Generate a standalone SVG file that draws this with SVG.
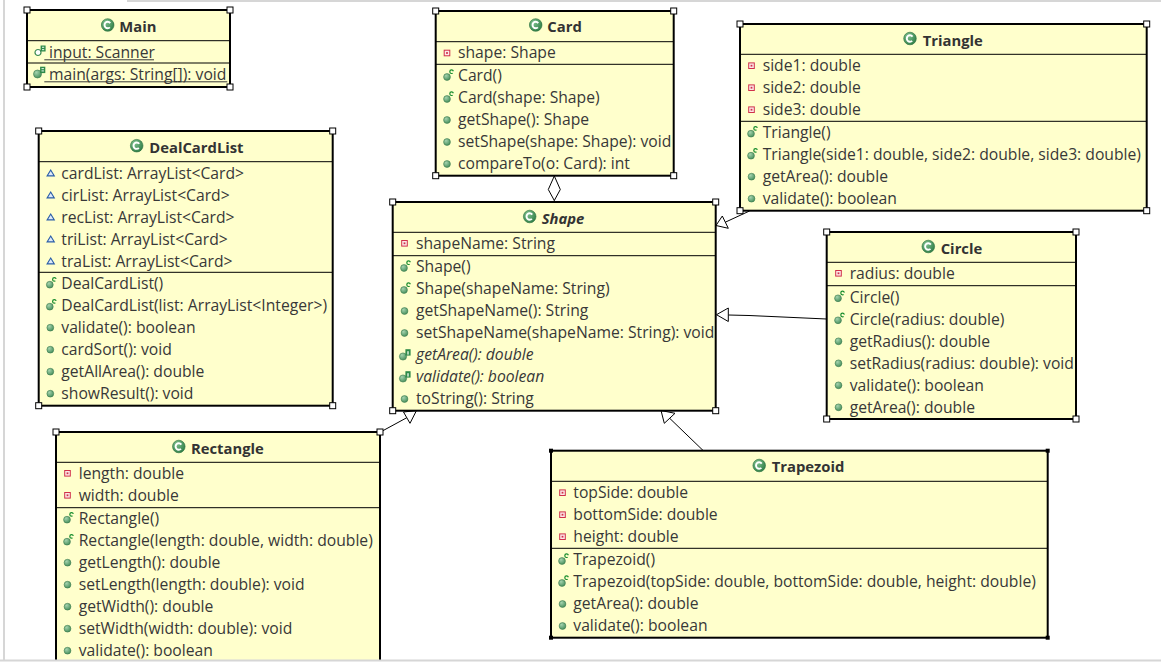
<svg xmlns="http://www.w3.org/2000/svg" xmlns:xlink="http://www.w3.org/1999/xlink" width="1161" height="662" viewBox="0 0 1161 662">
<style>
.box{fill:#ffffcc;stroke:#000;stroke-width:2}
.sep{stroke:#000;stroke-width:1}
.t{font-family:"Open Sans","Noto Sans","Liberation Sans",sans-serif;font-size:15.7px;fill:#383838}
.ti{font-family:"Open Sans","Noto Sans","Liberation Sans",sans-serif;font-size:14.8px;font-weight:bold;fill:#333}
.it{font-style:italic}
.h{fill:#fff;stroke:#000;stroke-width:1}
.hb{fill:#000}
.ul{stroke:#383838;stroke-width:1}
.conn{fill:none;stroke:#000;stroke-width:1}
.head{fill:#fff;stroke:#000;stroke-width:1}
.frame{stroke:#d6d6d6;stroke-width:2;fill:none}
</style>
<defs>
<radialGradient id="gg" cx="0.35" cy="0.3" r="0.8">
<stop offset="0" stop-color="#7fc08e"/>
<stop offset="1" stop-color="#2a7a42"/>
</radialGradient>
<radialGradient id="gd" cx="0.35" cy="0.3" r="0.8">
<stop offset="0" stop-color="#a5d3ae"/>
<stop offset="1" stop-color="#3f8a55"/>
</radialGradient>
<g id="icClass">
<circle r="6.3" fill="url(#gg)" stroke="#2a6e3c" stroke-width="0.6"/>
<circle r="3.2" fill="none" stroke="#fff" stroke-width="1.9" stroke-dasharray="15 5.1" stroke-dashoffset="-2.55"/>
</g>
<g id="icPub">
<circle r="3.4" fill="url(#gd)" stroke="#3d7a4f" stroke-width="0.6"/>
</g>
<g id="icCtor">
<circle cx="0" cy="1" r="3.4" fill="url(#gd)" stroke="#3d7a4f" stroke-width="0.6"/>
<circle cx="4.6" cy="-4.3" r="1.8" fill="none" stroke="#128a2a" stroke-width="1.2" stroke-dasharray="8.2 3.1" stroke-dashoffset="-1.55"/>
</g>
<g id="icPriv">
<rect x="-2.8" y="-2.8" width="5.6" height="5.6" fill="#fde8e8" stroke="#d0304a" stroke-width="1"/>
<rect x="-0.9" y="-0.9" width="1.8" height="1.8" fill="#d0304a"/>
</g>
<g id="icPkg">
<polygon points="0,-3.3 -3.6,2.6 3.6,2.6" fill="#dde9f8" stroke="#2b5ea8" stroke-width="1.1"/>
</g>
<g id="icStaticField">
<circle cx="-1" cy="1.5" r="3" fill="#fff" stroke="#3d8a52" stroke-width="1.2"/>
<rect x="1.6" y="-5.5" width="5" height="6" fill="#2f8a4a"/>
<rect x="3" y="-4.3" width="2.2" height="1.2" fill="#cfe9d4"/>
<rect x="3" y="-2.0" width="2.2" height="1.2" fill="#cfe9d4"/>
</g>
<g id="icStaticMethod">
<circle cx="-1" cy="1.5" r="4" fill="url(#gd)" stroke="#3d7a4f" stroke-width="0.6"/>
<rect x="1.6" y="-5.8" width="5.2" height="6.4" fill="#2f8a4a"/>
<rect x="3" y="-4.5" width="2.4" height="1.2" fill="#cfe9d4"/>
<rect x="3" y="-2.2" width="2.4" height="1.2" fill="#cfe9d4"/>
</g>
<g id="icAbs">
<circle cx="-1" cy="1.5" r="3.6" fill="url(#gd)" stroke="#3d7a4f" stroke-width="0.6"/>
<rect x="1.4" y="-5.8" width="5.2" height="6.4" fill="#2f8a4a"/>
<rect x="3.2" y="-3.8" width="1.6" height="3.4" fill="#cfe9d4"/>
</g>
</defs>
<rect x="0" y="0" width="1161" height="662" fill="#fff"/>

<g id="connectors">
<polygon class="head" points="554.3,176 560.3,189.5 554.3,200.5 548.3,189.5"/>
<line class="conn" x1="554.3" y1="200.5" x2="554.3" y2="202"/>
<line class="conn" x1="725.3" y1="222.2" x2="749.5" y2="211"/>
<polygon class="head" points="716,225.5 722.3,216 728.3,228.3"/>
<polyline class="conn" points="728.3,315 749,315.5 826.7,319"/>
<polygon class="head" points="716.5,314.7 728.3,308 728.3,321.5"/>
<line class="conn" x1="380.5" y1="432" x2="406.8" y2="417.7"/>
<polygon class="head" points="416.5,410.5 403.5,412 410,423.3"/>
<line class="conn" x1="669.7" y1="418.3" x2="703.3" y2="450.7"/>
<polygon class="head" points="661,410.5 664.3,423.3 675,413.3"/>
</g>

<g id="Main">
<rect class="box" x="27" y="10" width="203" height="77"/>
<line class="sep" x1="27" y1="40.7" x2="230" y2="40.7"/>
<line class="sep" x1="27" y1="63" x2="230" y2="63"/>
<use xlink:href="#icClass" x="107.7" y="25"/>
<text class="ti" x="119.3" y="31.5">Main</text>
<use xlink:href="#icStaticField" x="39" y="51"/>
<text class="t" x="49" y="57.5">input: Scanner</text>
<line class="ul" x1="44.3" y1="59.8" x2="154" y2="59.8"/>
<use xlink:href="#icStaticMethod" x="38.5" y="72.5"/>
<text class="t" x="49" y="79.5">main(args: String[]): void</text>
<line class="ul" x1="44.3" y1="81.8" x2="227.3" y2="81.8"/>
<rect class="h" x="24" y="7" width="6" height="6"/><rect class="h" x="227" y="7" width="6" height="6"/>
<rect class="h" x="24" y="84" width="6" height="6"/><rect class="h" x="227" y="84" width="6" height="6"/>
</g>

<g id="Card">
<rect class="box" x="435.7" y="11" width="238" height="164.7"/>
<line class="sep" x1="435.7" y1="41.7" x2="673.7" y2="41.7"/>
<line class="sep" x1="435.7" y1="64.3" x2="673.7" y2="64.3"/>
<use xlink:href="#icClass" x="535.7" y="25"/>
<text class="ti" x="547.3" y="32">Card</text>
<use xlink:href="#icPriv" x="447" y="53"/>
<text class="t" x="458" y="58.3">shape: Shape</text>
<use xlink:href="#icCtor" x="447" y="76"/>
<text class="t" x="458" y="81.3">Card()</text>
<use xlink:href="#icCtor" x="447" y="98"/>
<text class="t" x="458" y="103.3">Card(shape: Shape)</text>
<use xlink:href="#icPub" x="447" y="120"/>
<text class="t" x="458" y="125.3">getShape(): Shape</text>
<use xlink:href="#icPub" x="447" y="142"/>
<text class="t" x="458" y="147.3">setShape(shape: Shape): void</text>
<use xlink:href="#icPub" x="447" y="164"/>
<text class="t" x="458" y="169.3">compareTo(o: Card): int</text>
<rect class="h" x="432.7" y="8" width="6" height="6"/><rect class="h" x="670.7" y="8" width="6" height="6"/>
<rect class="h" x="432.7" y="172.7" width="6" height="6"/><rect class="h" x="670.7" y="172.7" width="6" height="6"/>
</g>

<g id="Triangle">
<rect class="box" x="740" y="24" width="406.7" height="186.7"/>
<line class="sep" x1="740" y1="54.3" x2="1146.7" y2="54.3"/>
<line class="sep" x1="740" y1="121.3" x2="1146.7" y2="121.3"/>
<use xlink:href="#icClass" x="910" y="38.5"/>
<text class="ti" x="922.7" y="45.5">Triangle</text>
<use xlink:href="#icPriv" x="751.5" y="65.7"/>
<text class="t" x="762.7" y="71">side1: double</text>
<use xlink:href="#icPriv" x="751.5" y="87.7"/>
<text class="t" x="762.7" y="93">side2: double</text>
<use xlink:href="#icPriv" x="751.5" y="109.7"/>
<text class="t" x="762.7" y="115">side3: double</text>
<use xlink:href="#icCtor" x="751" y="132.7"/>
<text class="t" x="762.7" y="138">Triangle()</text>
<use xlink:href="#icCtor" x="751" y="154.7"/>
<text class="t" x="762.7" y="160">Triangle(side1: double, side2: double, side3: double)</text>
<use xlink:href="#icPub" x="751.5" y="176.7"/>
<text class="t" x="762.7" y="182">getArea(): double</text>
<use xlink:href="#icPub" x="751.5" y="198.7"/>
<text class="t" x="762.7" y="204">validate(): boolean</text>
<rect class="h" x="737" y="21" width="6" height="6"/><rect class="h" x="1143.7" y="21" width="6" height="6"/>
<rect class="h" x="737" y="207.7" width="6" height="6"/><rect class="h" x="1143.7" y="207.7" width="6" height="6"/>
</g>

<g id="DealCardList">
<rect class="box" x="38.7" y="131" width="294" height="274.7"/>
<line class="sep" x1="38.7" y1="161.7" x2="332.7" y2="161.7"/>
<line class="sep" x1="38.7" y1="272.3" x2="332.7" y2="272.3"/>
<use xlink:href="#icClass" x="136.7" y="145.7"/>
<text class="ti" x="149.3" y="152.5">DealCardList</text>
<use xlink:href="#icPkg" x="50.7" y="173.3"/>
<text class="t" x="61.3" y="178.6">cardList: ArrayList&lt;Card&gt;</text>
<use xlink:href="#icPkg" x="50.7" y="195.3"/>
<text class="t" x="61.3" y="200.6">cirList: ArrayList&lt;Card&gt;</text>
<use xlink:href="#icPkg" x="50.7" y="217.3"/>
<text class="t" x="61.3" y="222.6">recList: ArrayList&lt;Card&gt;</text>
<use xlink:href="#icPkg" x="50.7" y="239.3"/>
<text class="t" x="61.3" y="244.6">triList: ArrayList&lt;Card&gt;</text>
<use xlink:href="#icPkg" x="50.7" y="261.3"/>
<text class="t" x="61.3" y="266.6">traList: ArrayList&lt;Card&gt;</text>
<use xlink:href="#icCtor" x="49.8" y="283.7"/>
<text class="t" x="61.3" y="289">DealCardList()</text>
<use xlink:href="#icCtor" x="49.8" y="305.7"/>
<text class="t" x="61.3" y="311">DealCardList(list: ArrayList&lt;Integer&gt;)</text>
<use xlink:href="#icPub" x="50.3" y="327.7"/>
<text class="t" x="61.3" y="333">validate(): boolean</text>
<use xlink:href="#icPub" x="50.3" y="349.7"/>
<text class="t" x="61.3" y="355">cardSort(): void</text>
<use xlink:href="#icPub" x="50.3" y="371.7"/>
<text class="t" x="61.3" y="377">getAllArea(): double</text>
<use xlink:href="#icPub" x="50.3" y="393.7"/>
<text class="t" x="61.3" y="399">showResult(): void</text>
<rect class="h" x="35.7" y="128" width="6" height="6"/><rect class="h" x="329.7" y="128" width="6" height="6"/>
<rect class="h" x="35.7" y="402.7" width="6" height="6"/><rect class="h" x="329.7" y="402.7" width="6" height="6"/>
</g>

<g id="Shape">
<rect class="box" x="392.7" y="202" width="323" height="208.7"/>
<line class="sep" x1="392.7" y1="232.3" x2="715.7" y2="232.3"/>
<line class="sep" x1="392.7" y1="255.7" x2="715.7" y2="255.7"/>
<use xlink:href="#icClass" x="529.7" y="216.5"/>
<text class="ti it" x="541.7" y="223.5">Shape</text>
<use xlink:href="#icPriv" x="404.5" y="243.3"/>
<text class="t" x="416" y="248.6">shapeName: String</text>
<use xlink:href="#icCtor" x="404" y="267"/>
<text class="t" x="416" y="272.3">Shape()</text>
<use xlink:href="#icCtor" x="404" y="289"/>
<text class="t" x="416" y="294.3">Shape(shapeName: String)</text>
<use xlink:href="#icPub" x="404.5" y="311"/>
<text class="t" x="416" y="316.3">getShapeName(): String</text>
<use xlink:href="#icPub" x="404.5" y="333"/>
<text class="t" x="416" y="338.3">setShapeName(shapeName: String): void</text>
<use xlink:href="#icAbs" x="404" y="355"/>
<text class="t it" x="416" y="360.3">getArea(): double</text>
<use xlink:href="#icAbs" x="404" y="377"/>
<text class="t it" x="416" y="382.3">validate(): boolean</text>
<use xlink:href="#icPub" x="404.5" y="399"/>
<text class="t" x="416" y="404.3">toString(): String</text>
<rect class="h" x="389.7" y="199" width="6" height="6"/><rect class="h" x="712.7" y="199" width="6" height="6"/>
<rect class="h" x="389.7" y="407.7" width="6" height="6"/><rect class="h" x="712.7" y="407.7" width="6" height="6"/>
</g>

<g id="Circle">
<rect class="box" x="826.7" y="232" width="249.3" height="187"/>
<line class="sep" x1="826.7" y1="262.3" x2="1076" y2="262.3"/>
<line class="sep" x1="826.7" y1="285.7" x2="1076" y2="285.7"/>
<use xlink:href="#icClass" x="928.3" y="246.5"/>
<text class="ti" x="940.7" y="253.5">Circle</text>
<use xlink:href="#icPriv" x="838.5" y="273.3"/>
<text class="t" x="849.7" y="278.6">radius: double</text>
<use xlink:href="#icCtor" x="838" y="297.3"/>
<text class="t" x="849.7" y="302.6">Circle()</text>
<use xlink:href="#icCtor" x="838" y="319.3"/>
<text class="t" x="849.7" y="324.6">Circle(radius: double)</text>
<use xlink:href="#icPub" x="838.5" y="341.3"/>
<text class="t" x="849.7" y="346.6">getRadius(): double</text>
<use xlink:href="#icPub" x="838.5" y="363.3"/>
<text class="t" x="849.7" y="368.6">setRadius(radius: double): void</text>
<use xlink:href="#icPub" x="838.5" y="385.3"/>
<text class="t" x="849.7" y="390.6">validate(): boolean</text>
<use xlink:href="#icPub" x="838.5" y="407.3"/>
<text class="t" x="849.7" y="412.6">getArea(): double</text>
<rect class="h" x="823.7" y="229" width="6" height="6"/><rect class="h" x="1073" y="229" width="6" height="6"/>
<rect class="h" x="823.7" y="416" width="6" height="6"/><rect class="h" x="1073" y="416" width="6" height="6"/>
</g>

<g id="Rectangle">
<rect class="box" x="56" y="432" width="324" height="260"/>
<line class="sep" x1="56" y1="462.3" x2="380" y2="462.3"/>
<line class="sep" x1="56" y1="507.7" x2="380" y2="507.7"/>
<use xlink:href="#icClass" x="178.8" y="446.5"/>
<text class="ti" x="191" y="453.5">Rectangle</text>
<use xlink:href="#icPriv" x="67.5" y="473.3"/>
<text class="t" x="78.7" y="478.6">length: double</text>
<use xlink:href="#icPriv" x="67.5" y="495.3"/>
<text class="t" x="78.7" y="500.6">width: double</text>
<use xlink:href="#icCtor" x="67" y="518.7"/>
<text class="t" x="78.7" y="524">Rectangle()</text>
<use xlink:href="#icCtor" x="67" y="540.7"/>
<text class="t" x="78.7" y="546">Rectangle(length: double, width: double)</text>
<use xlink:href="#icPub" x="67.5" y="562.7"/>
<text class="t" x="78.7" y="568">getLength(): double</text>
<use xlink:href="#icPub" x="67.5" y="584.7"/>
<text class="t" x="78.7" y="590">setLength(length: double): void</text>
<use xlink:href="#icPub" x="67.5" y="606.7"/>
<text class="t" x="78.7" y="612">getWidth(): double</text>
<use xlink:href="#icPub" x="67.5" y="628.7"/>
<text class="t" x="78.7" y="634">setWidth(width: double): void</text>
<use xlink:href="#icPub" x="67.5" y="650.7"/>
<text class="t" x="78.7" y="656">validate(): boolean</text>
<rect class="h" x="53" y="429" width="6" height="6"/><rect class="h" x="377" y="429" width="6" height="6"/>
</g>

<g id="Trapezoid">
<rect class="box" x="551" y="450.7" width="496.7" height="187"/>
<line class="sep" x1="551" y1="481.3" x2="1047.7" y2="481.3"/>
<line class="sep" x1="551" y1="548.3" x2="1047.7" y2="548.3"/>
<use xlink:href="#icClass" x="759.2" y="465.5"/>
<text class="ti" x="771.7" y="472">Trapezoid</text>
<use xlink:href="#icPriv" x="562.5" y="492.7"/>
<text class="t" x="573.3" y="498">topSide: double</text>
<use xlink:href="#icPriv" x="562.5" y="514.7"/>
<text class="t" x="573.3" y="520">bottomSide: double</text>
<use xlink:href="#icPriv" x="562.5" y="536.7"/>
<text class="t" x="573.3" y="542">height: double</text>
<use xlink:href="#icCtor" x="562" y="560"/>
<text class="t" x="573.3" y="565.3">Trapezoid()</text>
<use xlink:href="#icCtor" x="562" y="582"/>
<text class="t" x="573.3" y="587.3">Trapezoid(topSide: double, bottomSide: double, height: double)</text>
<use xlink:href="#icPub" x="562.5" y="604"/>
<text class="t" x="573.3" y="609.3">getArea(): double</text>
<use xlink:href="#icPub" x="562.5" y="626"/>
<text class="t" x="573.3" y="631.3">validate(): boolean</text>
<rect class="hb" x="549" y="448.7" width="4" height="4"/><rect class="hb" x="1045.7" y="448.7" width="4" height="4"/>
<rect class="hb" x="549" y="635.7" width="4" height="4"/><rect class="hb" x="1045.7" y="635.7" width="4" height="4"/>
</g>

<rect x="0" y="660" width="1161" height="2" fill="#fff"/>
<line class="frame" x1="0" y1="660.5" x2="1161" y2="660.5"/>
<line class="frame" x1="4" y1="0" x2="4" y2="660"/>
<line class="frame" x1="127" y1="1" x2="1161" y2="1"/>
</svg>
